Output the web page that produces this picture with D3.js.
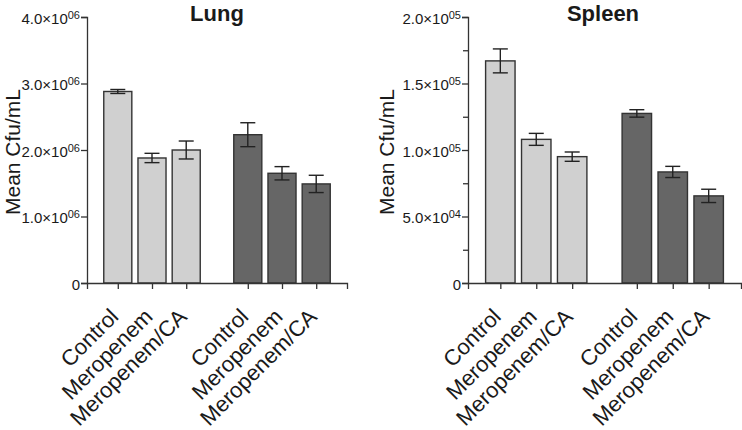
<!DOCTYPE html>
<html>
<head>
<meta charset="utf-8">
<script src="https://cdn.jsdelivr.net/npm/d3@7"></script>
<style>
  body { margin: 0; background: #fff; }
  svg text { font-family: "Liberation Sans", Arial, sans-serif; fill: #1a1a1a; }
  .axis path, .axis line { stroke: #333; stroke-width: 1.3px; }
</style>
</head>
<body>
<div id="chartId"></div>
<script>
// data
var categories = ["Control", "Meropenem", "Meropenem/CA"];
var groups = ["light", "dark"];

var lungMeans = [2.88e6, 1.88e6, 2.00e6, 2.23e6, 1.65e6, 1.49e6];
var lungSem   = [0.03e6, 0.07e6, 0.135e6, 0.18e6, 0.10e6, 0.13e6];
var lungTicks = [0, 1e6, 2e6, 3e6, 4e6];

var spleenMeans = [1.67e5, 1.08e5, 0.95e5, 1.275e5, 0.835e5, 0.655e5];
var spleenSem   = [0.09e5, 0.045e5, 0.035e5, 0.028e5, 0.042e5, 0.05e5];
var spleenTicks = [0, 5e4, 1e5, 1.5e5, 2e5];
var spleenMinor = [2.5e4, 7.5e4, 1.25e5, 1.75e5];

var fills = {light: "#d0d0d0", dark: "#666666"};

var svg = d3.select("#chartId").append("svg")
    .attr("width", 742)
    .attr("height", 430);

// "4.0×10^06" style label
function sciLabel(sel) {
    sel.each(function(d) {
        var t = d3.select(this);
        t.text(null);
        if (d === 0) { t.text("0"); return; }
        var e = Math.floor(Math.log10(d));
        var m = d / Math.pow(10, e);
        t.append("tspan").text(m.toFixed(1) + "\u00d710");
        t.append("tspan")
            .attr("dy", "-0.45em")
            .style("font-size", "11px")
            .text((e < 10 ? "0" : "") + e);
    });
}

function panel(opt) {
    var y = d3.scaleLinear().domain([0, opt.max]).range([283, 17]);
    var x = d3.scaleLinear().domain([-0.9, 6.7]).range([opt.left, opt.right]);
    var step = x(1) - x(0);
    var bw = step * 0.82;

    var data = opt.means.map(function(v, i) {
        var g = Math.floor(i / 3);
        return {cat: categories[i % 3], group: groups[g], pos: (i % 3) + g * 3.8, v: v, se: opt.sem[i]};
    });

    var g = svg.append("g");

    // bars
    g.selectAll("rect.bar")
      .data(data)
      .enter().append("rect")
        .attr("class", "bar")
        .attr("x", function(d) { return x(d.pos) - bw / 2; })
        .attr("y", function(d) { return y(d.v); })
        .attr("width", bw)
        .attr("height", function(d) { return y(0) - y(d.v); })
        .attr("fill", function(d) { return fills[d.group]; })
        .attr("stroke", "#333")
        .attr("stroke-width", 1.4);

    // error bars
    var cap = 7.5;
    var eb = g.selectAll("g.err").data(data).enter().append("g").attr("class", "err")
        .attr("stroke", "#222").attr("stroke-width", 1.4);
    eb.append("line")
        .attr("x1", function(d) { return x(d.pos); })
        .attr("x2", function(d) { return x(d.pos); })
        .attr("y1", function(d) { return y(d.v + d.se); })
        .attr("y2", function(d) { return y(d.v - d.se); });
    eb.append("line")
        .attr("x1", function(d) { return x(d.pos) - cap; })
        .attr("x2", function(d) { return x(d.pos) + cap; })
        .attr("y1", function(d) { return y(d.v + d.se); })
        .attr("y2", function(d) { return y(d.v + d.se); });
    eb.append("line")
        .attr("x1", function(d) { return x(d.pos) - cap; })
        .attr("x2", function(d) { return x(d.pos) + cap; })
        .attr("y1", function(d) { return y(d.v - d.se); })
        .attr("y2", function(d) { return y(d.v - d.se); });

    // Y axis
    if (opt.minor) {
        g.append("g")
            .attr("class", "axis")
            .attr("transform", "translate(" + opt.left + ",0)")
            .call(d3.axisLeft(y).tickValues(opt.minor).tickSize(5).tickFormat(""))
            .select(".domain").remove();
    }
    var ya = g.append("g")
        .attr("class", "axis")
        .attr("transform", "translate(" + opt.left + ",0)")
        .call(d3.axisLeft(y).tickValues(opt.ticks).tickSizeOuter(0).tickSize(6).tickPadding(1));
    ya.selectAll("text")
        .style("font-size", "15px")
        .attr("dy", "0.4em")
        .call(sciLabel);

    // X axis
    g.append("g")
        .attr("class", "axis")
        .attr("transform", "translate(0,283)")
        .call(d3.axisBottom(x).tickValues(data.map(function(d) { return d.pos; }))
              .tickSizeOuter(0).tickSize(6).tickFormat(""));

    g.selectAll("text.xlab")
      .data(data)
      .enter().append("text")
        .attr("class", "xlab")
        .attr("transform", function(d) { return "translate(" + (x(d.pos) + 2) + ",318) rotate(-45)"; })
        .style("text-anchor", "end")
        .style("font-size", "22px")
        .text(function(d) { return d.cat; });

    // y title
    g.append("text")
        .attr("transform", "translate(" + opt.ylabX + ",152) rotate(-90)")
        .style("text-anchor", "middle")
        .style("font-size", "21px")
        .text("Mean Cfu/mL");

    // title
    g.append("text")
        .attr("x", opt.titleX)
        .attr("y", 21)
        .style("text-anchor", "middle")
        .style("font-size", "22px")
        .style("font-weight", "bold")
        .text(opt.title);
}

panel({title: "Lung", titleX: 217, left: 87, right: 347, max: 4e6,
       means: lungMeans, sem: lungSem, ticks: lungTicks, ylabX: 20});
panel({title: "Spleen", titleX: 603, left: 468, right: 741, max: 2e5,
       means: spleenMeans, sem: spleenSem, ticks: spleenTicks, minor: spleenMinor, ylabX: 394});
</script>
</body>
</html>
